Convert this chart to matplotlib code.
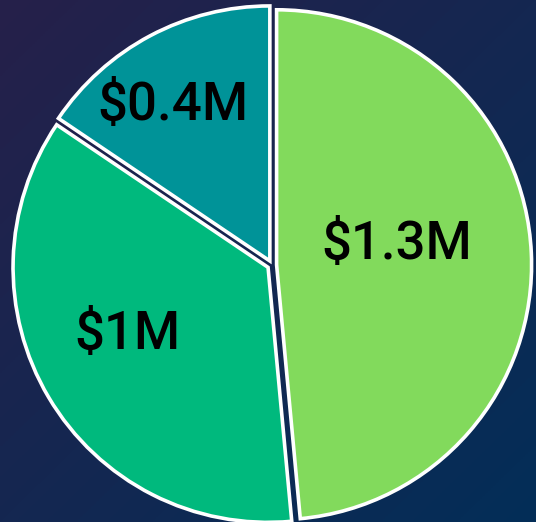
import numpy as np
import matplotlib
matplotlib.use("Agg")
import matplotlib.pyplot as plt

# slice values in $M, labels and colours
values = [1.31, 0.97, 0.42]
labels = ["$1.3M", "$1M", "$0.4M"]
colors = ["#82DA5C", "#00B97D", "#009398"]
# label placement: distance from centre and angle offset from wedge middle
label_radius = [0.48, 0.61, 0.72]
label_shift = [7, -5, 4]

fig = plt.figure(figsize=(5.36, 5.22), dpi=100)

# diagonal dark gradient background
bg = fig.add_axes([0, 0, 1, 1])
bg.axis("off")
yy, xx = np.mgrid[0:1:200j, 0:1:200j]
t = (xx + yy) / 2
c0 = np.array([0x26, 0x20, 0x4A]) / 255
c1 = np.array([0x03, 0x2E, 0x58]) / 255
img = c0[None, None, :] * (1 - t[..., None]) + c1[None, None, :] * t[..., None]
bg.imshow(img, extent=[0, 1, 0, 1], aspect="auto", origin="upper")

ax = fig.add_axes([0, 0, 1, 1])
ax.axis("off")
wedges, _ = ax.pie(values, colors=colors, startangle=90, counterclock=False,
                   explode=[0.018, 0.018, 0.018],
                   wedgeprops=dict(edgecolor="white", linewidth=2.6))

# put the labels inside each wedge
for w, lab, r, s in zip(wedges, labels, label_radius, label_shift):
    ang = np.deg2rad((w.theta1 + w.theta2) / 2 + s)
    cx, cy = w.center
    ax.text(cx + r * np.cos(ang), cy + r * np.sin(ang), lab,
            ha="center", va="center", fontsize=38, fontfamily="Roboto",
            fontweight="medium", color="black")

ax.set_xlim(-272 / 255, 264 / 255)
ax.set_ylim(-257 / 255, 265 / 255)
ax.set_aspect("equal")

plt.savefig("out.png", dpi=100)
plt.close()
